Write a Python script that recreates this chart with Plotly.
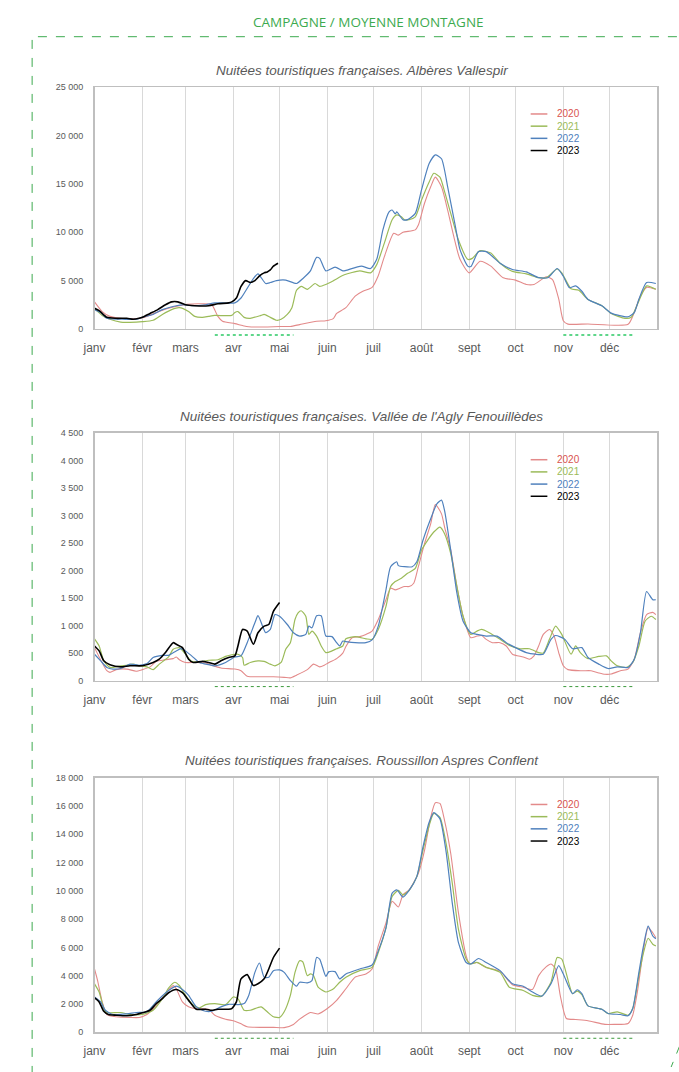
import plotly.graph_objects as go

W, H = 679, 1072

# ---------------- DATA ----------------
mois = ["janv", "févr", "mars", "avr", "mai", "juin", "juil", "août", "sept", "oct", "nov", "déc"]
mois_debut = [0, 31, 59, 90, 120, 151, 181, 212, 243, 273, 304, 334]
annees = ["2020", "2021", "2022", "2023"]
titres = [
    "Nuitées touristiques françaises. Albères Vallespir",
    "Nuitées touristiques françaises. Vallée de l'Agly Fenouillèdes",
    "Nuitées touristiques françaises. Roussillon Aspres Conflent",
]
periodes = [[78, 129], [304, 350]]  # vacances (pointillés sous l'axe)

# ---- Chart 1 : Albères Vallespir ----
c1_j2020 = [0, 5, 10, 20, 31, 45, 55, 60, 70, 76, 80, 83, 91, 96, 100, 110, 120, 127, 133, 144, 150, 155, 157, 163, 169, 174, 180, 184, 188, 194, 197, 200, 208, 210, 214, 218, 221, 225, 229, 233, 237, 243, 250, 257, 265, 273, 280, 285, 293, 297, 301, 304, 307, 320, 346, 350, 354, 358, 364]
c1_v2020 = [2800, 1800, 1300, 1050, 1150, 2000, 2400, 2550, 2600, 2500, 1300, 800, 550, 350, 220, 200, 250, 260, 450, 800, 850, 1100, 1600, 2200, 3400, 3900, 4300, 5500, 7500, 9900, 9700, 10000, 10250, 10750, 13000, 14700, 15700, 14700, 12300, 9550, 7200, 5800, 7000, 6500, 5300, 5050, 4600, 4600, 5400, 5100, 3100, 850, 500, 520, 480, 1700, 3400, 4300, 4100]
c1_j2021 = [0, 5, 10, 17, 23, 31, 38, 44, 50, 55, 61, 65, 70, 74, 78, 89, 91, 93, 97, 101, 108, 110, 114, 118, 121, 125, 128, 131, 134, 138, 143, 146, 150, 155, 162, 172, 179, 183, 188, 193, 196, 199, 201, 204, 208, 212, 217, 220, 224, 227, 231, 236, 242, 245, 250, 257, 263, 271, 280, 288, 293, 300, 303, 309, 314, 320, 329, 335, 344, 348, 353, 358, 364]
c1_v2021 = [2100, 1400, 1000, 700, 680, 750, 900, 1500, 2000, 2200, 1800, 1300, 1200, 1300, 1400, 1400, 1700, 1800, 1200, 1100, 1400, 1500, 1200, 900, 1000, 1500, 2200, 4000, 4400, 4100, 4700, 4400, 4600, 5000, 5600, 6000, 5800, 6650, 8900, 11300, 11800, 11600, 11300, 11300, 11600, 13300, 15200, 16100, 15700, 14200, 11950, 9200, 7200, 7300, 8100, 7850, 6800, 5950, 5700, 5300, 5300, 6200, 5800, 4150, 4000, 3050, 2400, 1600, 1100, 1200, 2900, 4450, 4100]
c1_j2022 = [0, 4, 8, 20, 27, 31, 38, 44, 53, 57, 63, 72, 78, 91, 95, 99, 103, 106, 111, 114, 118, 124, 131, 135, 140, 144, 146, 150, 156, 161, 163, 173, 179, 183, 187, 191, 193, 195, 196, 200, 203, 208, 212, 217, 221, 225, 229, 234, 237, 242, 244, 249, 254, 263, 271, 280, 288, 294, 300, 304, 308, 312, 316, 320, 329, 335, 346, 350, 353, 358, 364]
c1_v2022 = [2000, 1700, 1100, 1000, 1000, 1200, 1500, 2000, 2400, 2500, 2400, 2500, 2700, 2700, 3200, 4200, 5200, 5700, 4700, 4800, 5000, 5050, 4700, 5200, 6000, 7400, 7300, 6000, 6400, 6000, 6050, 6500, 6250, 7200, 10250, 12100, 12300, 11900, 12100, 11300, 11300, 11950, 14350, 17100, 18000, 17600, 14700, 10600, 8200, 6500, 6450, 8000, 8000, 6800, 6150, 5900, 5300, 5300, 6250, 5450, 4270, 4450, 3900, 3050, 2400, 1640, 1260, 1700, 3070, 4800, 4700]
c1_j2023 = [0, 3, 8, 14, 21, 25, 29, 31, 36, 41, 46, 50, 54, 59, 65, 74, 80, 87, 89, 92, 95, 98, 101, 104, 107, 110, 112, 114, 116, 119]
c1_v2023 = [2150, 1900, 1200, 1100, 1100, 1000, 1100, 1200, 1600, 2000, 2500, 2800, 2800, 2500, 2400, 2400, 2600, 2700, 2800, 3200, 4400, 5000, 4800, 5000, 5500, 5800, 5900, 6100, 6500, 6800]

# ---- Chart 2 : Vallée de l'Agly Fenouillèdes ----
c2_j2020 = [0, 8, 10, 14, 21, 27, 31, 36, 40, 46, 51, 53, 55, 59, 65, 72, 76, 82, 91, 95, 99, 108, 116, 123, 127, 131, 138, 142, 146, 149, 152, 157, 161, 163, 167, 172, 176, 180, 184, 189, 192, 195, 198, 201, 204, 207, 210, 214, 218, 221, 225, 227, 231, 235, 239, 244, 248, 251, 254, 258, 263, 267, 271, 278, 282, 285, 288, 291, 295, 298, 301, 304, 307, 316, 322, 327, 331, 335, 341, 346, 350, 354, 358, 362, 364]
c2_v2020 = [600, 180, 150, 200, 210, 170, 200, 250, 350, 380, 400, 430, 380, 330, 330, 320, 280, 230, 210, 180, 80, 70, 70, 60, 50, 100, 200, 300, 250, 280, 330, 400, 500, 620, 780, 800, 840, 900, 1110, 1470, 1680, 1650, 1680, 1710, 1710, 1770, 2070, 2490, 2850, 3200, 3030, 2790, 2370, 1710, 1170, 780, 810, 820, 750, 690, 690, 630, 480, 430, 390, 450, 630, 840, 930, 810, 510, 270, 200, 180, 180, 140, 115, 120, 180, 210, 390, 870, 1200, 1240, 1200]
c2_j2021 = [0, 3, 6, 10, 17, 21, 25, 29, 34, 38, 42, 48, 51, 55, 59, 63, 68, 74, 80, 85, 89, 93, 96, 97, 101, 106, 110, 114, 117, 121, 124, 127, 130, 132, 134, 137, 139, 141, 144, 147, 150, 154, 157, 161, 163, 169, 176, 180, 184, 189, 192, 195, 199, 203, 208, 212, 216, 220, 224, 227, 231, 235, 239, 244, 248, 251, 256, 263, 269, 276, 282, 288, 291, 295, 299, 303, 309, 312, 315, 320, 327, 332, 335, 339, 345, 349, 353, 357, 361, 364]
c2_v2021 = [760, 630, 360, 240, 270, 280, 300, 270, 250, 200, 300, 430, 570, 600, 480, 350, 340, 370, 380, 440, 470, 480, 420, 280, 330, 360, 350, 300, 270, 330, 570, 690, 1110, 1230, 1270, 1170, 840, 900, 810, 630, 510, 540, 580, 630, 760, 800, 760, 750, 930, 1350, 1710, 1800, 1860, 1950, 2040, 2370, 2550, 2700, 2790, 2670, 2310, 1710, 1170, 840, 900, 930, 870, 750, 640, 580, 580, 510, 500, 750, 990, 840, 480, 630, 510, 400, 440, 450, 360, 270, 240, 330, 630, 1080, 1170, 1110]
c2_j2022 = [0, 4, 8, 12, 17, 23, 29, 34, 38, 44, 48, 53, 56, 59, 63, 68, 74, 78, 85, 91, 95, 99, 104, 106, 109, 111, 114, 117, 120, 125, 129, 133, 137, 139, 141, 144, 147, 150, 154, 157, 159, 161, 163, 169, 176, 180, 184, 189, 192, 196, 197, 201, 206, 209, 213, 218, 222, 225, 227, 231, 235, 239, 244, 248, 254, 261, 267, 273, 280, 286, 291, 296, 299, 305, 310, 316, 320, 327, 333, 339, 346, 350, 354, 358, 362, 364]
c2_v2022 = [480, 360, 240, 210, 220, 300, 280, 310, 420, 460, 460, 540, 580, 540, 450, 330, 290, 270, 330, 430, 450, 690, 1050, 1180, 990, 870, 930, 1200, 1170, 1020, 870, 810, 840, 990, 960, 1180, 1180, 810, 800, 690, 630, 720, 710, 690, 690, 740, 990, 1650, 2070, 2160, 2090, 2070, 2070, 2160, 2550, 2940, 3210, 3280, 3090, 2370, 1590, 1080, 870, 840, 810, 810, 690, 600, 510, 480, 480, 750, 820, 750, 580, 600, 420, 300, 220, 250, 240, 390, 870, 1620, 1470, 1470]
c2_j2023 = [0, 3, 6, 10, 17, 23, 31, 38, 42, 46, 51, 53, 57, 61, 64, 70, 74, 78, 82, 87, 91, 93, 96, 99, 103, 106, 110, 113, 116, 120]
c2_v2023 = [630, 540, 360, 290, 250, 270, 270, 330, 390, 510, 690, 660, 600, 390, 330, 350, 330, 300, 360, 420, 450, 630, 930, 900, 660, 870, 990, 1020, 1260, 1420]

# ---- Chart 3 : Roussillon Aspres Conflent ----
c3_j2020 = [0, 2, 5, 8, 14, 23, 29, 34, 40, 46, 51, 53, 57, 61, 65, 74, 78, 85, 91, 95, 99, 108, 116, 123, 129, 133, 140, 145, 151, 157, 163, 169, 176, 180, 184, 189, 193, 197, 200, 204, 210, 214, 218, 221, 224, 227, 231, 236, 241, 243, 248, 254, 263, 271, 278, 284, 288, 293, 296, 299, 302, 306, 312, 320, 331, 337, 346, 349, 352, 356, 359, 362, 364]
c3_v2020 = [4480, 3660, 2150, 1260, 1100, 1050, 1050, 1260, 1900, 2730, 3300, 3080, 2150, 1800, 1680, 1630, 1210, 930, 790, 600, 400, 350, 350, 330, 560, 930, 1400, 1300, 1680, 2260, 3080, 3900, 4130, 4480, 6110, 7740, 9260, 8860, 9720, 10070, 11240, 12870, 15200, 16230, 16180, 14970, 12640, 8440, 5410, 4870, 4940, 4590, 4310, 3360, 3190, 3030, 4010, 4640, 4830, 4480, 2610, 980, 910, 820, 560, 560, 630, 1210, 2850, 5880, 7390, 7040, 6690]
c3_j2021 = [0, 3, 7, 10, 17, 23, 31, 38, 44, 48, 52, 55, 59, 63, 68, 72, 78, 85, 90, 93, 97, 101, 108, 112, 116, 120, 123, 127, 130, 133, 135, 138, 140, 142, 145, 150, 155, 159, 163, 172, 180, 184, 189, 193, 197, 200, 204, 209, 213, 217, 220, 224, 228, 232, 236, 241, 244, 248, 254, 263, 269, 278, 284, 290, 296, 300, 303, 310, 313, 316, 320, 329, 333, 339, 346, 349, 353, 356, 359, 362, 364]
c3_v2021 = [3430, 2850, 1450, 1380, 1400, 1260, 1260, 1560, 2380, 3120, 3540, 3310, 2610, 2030, 1730, 1960, 2030, 1960, 2500, 2380, 1560, 1560, 1800, 1450, 1100, 1050, 1450, 2610, 4240, 5060, 4990, 4010, 4130, 4010, 3190, 2850, 3080, 3540, 3900, 4360, 4590, 5640, 7390, 9610, 10030, 9720, 10030, 11010, 12870, 14620, 15480, 15200, 13340, 10540, 7280, 5180, 4830, 4940, 4590, 4240, 3190, 2960, 2610, 2560, 3540, 5290, 5180, 2730, 2910, 2660, 1870, 1630, 1330, 1450, 1210, 1680, 4010, 5640, 6650, 6230, 6110]
c3_j2022 = [0, 4, 7, 12, 21, 27, 34, 40, 46, 53, 57, 61, 66, 72, 76, 82, 87, 93, 97, 100, 104, 107, 110, 113, 116, 120, 123, 127, 131, 133, 138, 141, 144, 146, 150, 152, 156, 159, 163, 172, 180, 184, 189, 193, 196, 200, 204, 209, 213, 217, 220, 224, 228, 232, 236, 241, 244, 249, 254, 263, 271, 278, 284, 290, 296, 301, 304, 310, 313, 316, 320, 329, 333, 341, 346, 349, 353, 356, 359, 362, 364]
c3_v2022 = [2500, 2150, 1560, 1260, 1300, 1400, 1450, 2150, 2780, 3260, 3030, 2610, 1800, 1490, 1490, 1800, 1980, 1960, 2030, 2610, 4240, 4900, 3900, 3900, 4360, 4410, 4240, 3660, 3260, 3540, 3500, 3660, 5290, 5180, 3960, 4290, 4290, 3780, 4130, 4480, 4760, 5760, 7390, 9840, 10070, 9560, 10030, 11010, 13110, 14850, 15530, 15090, 12760, 9140, 6340, 4940, 4830, 5220, 4940, 4360, 3430, 3260, 2850, 2560, 3430, 4710, 4130, 2730, 3010, 2730, 1870, 1630, 1330, 1260, 1170, 1680, 4240, 6110, 7510, 6810, 6620]
c3_j2023 = [0, 3, 6, 9, 14, 21, 27, 31, 36, 40, 44, 48, 53, 57, 61, 66, 72, 76, 80, 87, 89, 92, 95, 99, 103, 106, 110, 113, 116, 120]
c3_v2023 = [2430, 2150, 1490, 1260, 1210, 1170, 1260, 1380, 1560, 2030, 2380, 2800, 3030, 2800, 2260, 1630, 1630, 1560, 1630, 1630, 1680, 2150, 3780, 4080, 3310, 3430, 3780, 4480, 5290, 5950]

y_max = [25000, 4500, 18000]
y_pas = [5000, 500, 2000]

# ---------------- STYLE ----------------
couleurs = ["#e38a8a", "#9bbb59", "#4f81bd", "#000000"]
couleurs_texte = ["#d9534f", "#9bbb59", "#4f81bd", "#000000"]
largeurs = [1.1, 1.2, 1.2, 1.6]
gris = "#595959"
vert = "#3daa4f"
FONT = "Liberation Sans, Arial, sans-serif"

def px(x):
    return x / W

def py(y):
    return 1 - y / H

plot_x = (84, 657)
plot_y = [(83, 327), (432, 682), (780, 1037)]
titre_y = [66, 415, 763]
periode_style = [("#5fd68a", 2), ("#3c9a3c", 1), ("#3c9a3c", 1)]

series = [
    [(c1_j2020, c1_v2020), (c1_j2021, c1_v2021), (c1_j2022, c1_v2022), (c1_j2023, c1_v2023)],
    [(c2_j2020, c2_v2020), (c2_j2021, c2_v2021), (c2_j2022, c2_v2022), (c2_j2023, c2_v2023)],
    [(c3_j2020, c3_v2020), (c3_j2021, c3_v2021), (c3_j2022, c3_v2022), (c3_j2023, c3_v2023)],
]

fig = go.Figure()
shapes = []
annotations = []
layout = dict(
    width=W, height=H, margin=dict(l=0, r=0, t=0, b=0),
    paper_bgcolor="white", plot_bgcolor="white",
    separators=", ", showlegend=False,
    font=dict(family=FONT, color=gris),
)

for i in range(3):
    sfx = "" if i == 0 else str(i + 1)
    xa, ya = "x" + sfx, "y" + sfx
    for k in range(4):
        jours, vals = series[i][k]
        fig.add_trace(go.Scatter(
            x=jours, y=vals, mode="lines", name=annees[k],
            line=dict(color=couleurs[k], width=largeurs[k], shape="spline", smoothing=0.6),
            xaxis=xa, yaxis=ya, hoverinfo="skip",
        ))
    top, bot = plot_y[i]
    layout["xaxis" + sfx] = dict(
        domain=[px(plot_x[0]), px(plot_x[1])], anchor=ya, range=[0, 365],
        tickmode="array", tickvals=mois_debut, ticktext=mois,
        showgrid=True, gridcolor="#d9d9d9", gridwidth=1,
        showline=True, linecolor="#bfbfbf", linewidth=1.5, mirror=True,
        ticks="", zeroline=False, fixedrange=True,
        tickfont=dict(size=12, color=gris, family=FONT), ticklabelstandoff=7,
    )
    layout["yaxis" + sfx] = dict(
        domain=[py(bot), py(top)], anchor=xa, range=[0, y_max[i]],
        dtick=y_pas[i], tick0=0, tickformat=",d",
        showgrid=False, showline=True, linecolor="#bfbfbf", linewidth=1.5, mirror=True,
        ticks="", zeroline=False, fixedrange=True,
        tickfont=dict(size=9, color=gris, family=FONT), ticklabelstandoff=8,
    )
    annotations.append(dict(
        text="<i>" + titres[i] + "</i>", x=px(356), y=py(titre_y[i]), xref="paper", yref="paper",
        xanchor="center", yanchor="middle", showarrow=False,
        font=dict(size=13.5, color=gris, family=FONT),
    ))
    for k in range(4):
        ly = top + 27 + 12.3 * k
        shapes.append(dict(type="line", xref="paper", yref="paper",
                           x0=px(528), x1=px(545), y0=py(ly), y1=py(ly),
                           line=dict(color=couleurs[k], width=1.5)))
        annotations.append(dict(
            text=annees[k], x=px(553), y=py(ly), xref="paper", yref="paper",
            xanchor="left", yanchor="middle", showarrow=False,
            font=dict(size=10, color=couleurs_texte[k], family=FONT),
        ))
    c, w = periode_style[i]
    for a, b in periodes:
        shapes.append(dict(type="line", xref=xa, yref="paper", x0=a, x1=b,
                           y0=py(bot + 6), y1=py(bot + 6),
                           line=dict(color=c, width=w, dash="dot")))

annotations.append(dict(
    text="CAMPAGNE / MOYENNE MONTAGNE", x=px(363), y=py(17), xref="paper", yref="paper",
    xanchor="center", yanchor="middle", showarrow=False,
    font=dict(size=13.5, color=vert, family="Open Sans, Noto Sans, sans-serif"),
))
shapes.append(dict(type="path", xref="paper", yref="paper",
                   path=f"M {px(20.5)},{py(1080)} L {px(20.5)},{py(32)} L {px(690)},{py(32)}",
                   line=dict(color=vert, width=1, dash="dash")))
shapes.append(dict(type="line", xref="paper", yref="paper",
                   x0=px(680), y0=py(1050), x1=px(671), y1=py(1072),
                   line=dict(color=vert, width=1, dash="dash")))

layout["shapes"] = shapes
layout["annotations"] = annotations
fig.update_layout(**layout)
fig.write_html(
    "out.html",
    config={"displayModeBar": False, "staticPlot": True},
    post_script="document.body.style.margin='0';document.body.style.overflow='hidden';",
)
